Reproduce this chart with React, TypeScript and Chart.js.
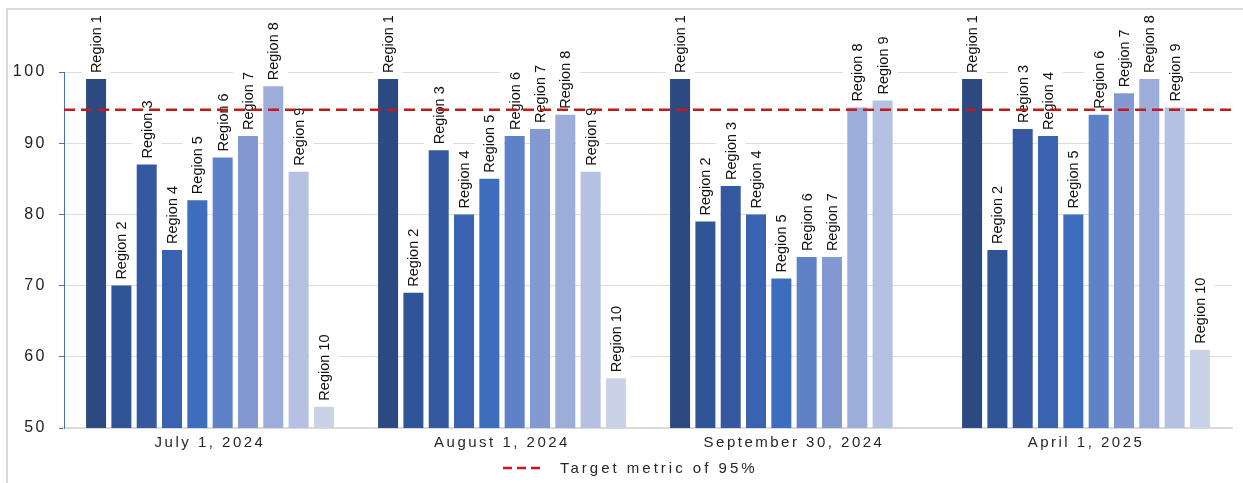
import React, { useEffect, useRef } from "react";
import { Chart, registerables } from "chart.js";

Chart.register(...registerables);

const categories = ["July 1, 2024", "August 1, 2024", "September 30, 2024", "April 1, 2025"];
const regions = ["Region 1", "Region 2", "Region 3", "Region 4", "Region 5", "Region 6", "Region 7", "Region 8", "Region 9", "Region 10"];

const region1 = [99, 99, 99, 99];
const region2 = [70, 69, 79, 75];
const region3 = [87, 89, 84, 92];
const region4 = [75, 80, 80, 91];
const region5 = [82, 85, 71, 80];
const region6 = [88, 91, 74, 94];
const region7 = [91, 92, 74, 97];
const region8 = [98, 94, 95, 99];
const region9 = [86, 86, 96, 95];
const region10 = [53, 57, null, 61];

const seriesValues = [region1, region2, region3, region4, region5, region6, region7, region8, region9, region10];
const regionColors = ["#2B4A81", "#2F5597", "#3459A1", "#3963B0", "#3E6DBE", "#5F81C7", "#8499D1", "#9DADDA", "#B4C1E2", "#CAD2E7"];

const targetValue = 94.7;
const targetLabel = "Target metric of 95%";
const yTicks = [50, 60, 70, 80, 90, 100];

const FONT = "'Liberation Sans', Arial, sans-serif";

const barLabelPlugin = {
  id: "barLabels",
  afterDatasetsDraw(chart: any) {
    const ctx = chart.ctx;
    ctx.save();
    (ctx as any).letterSpacing = "0px";
    ctx.font = `14.5px ${FONT}`;
    chart.data.datasets.forEach((ds: any, di: number) => {
      const meta = chart.getDatasetMeta(di);
      if (meta.type !== "bar") return;
      meta.data.forEach((bar: any, i: number) => {
        const v = ds.data[i];
        if (v === null || v === undefined) return;
        const text = ds.label;
        const w = ctx.measureText(text).width;
        ctx.save();
        ctx.translate(bar.x, bar.y - 3);
        ctx.rotate(-Math.PI / 2);
        ctx.fillStyle = "#FFFFFF";
        ctx.fillRect(0, -14.5, w + 8, 29);
        ctx.fillStyle = "#111111";
        ctx.textAlign = "left";
        ctx.textBaseline = "middle";
        ctx.fillText(text, 3, 1);
        ctx.restore();
      });
    });
    ctx.restore();
  },
};

const targetPlugin = {
  id: "targetLine",
  afterDatasetsDraw(chart: any) {
    const ctx = chart.ctx;
    const y = chart.scales.y.getPixelForValue(targetValue);
    const { left, right } = chart.chartArea;
    ctx.save();
    ctx.strokeStyle = "#C8161D";
    ctx.lineWidth = 2.5;
    ctx.setLineDash([11, 6]);
    ctx.beginPath();
    ctx.moveTo(left, y);
    ctx.lineTo(right, y);
    ctx.stroke();
    ctx.restore();
  },
  afterDraw(chart: any) {
    const ctx = chart.ctx;
    const ly = 468;
    ctx.save();
    ctx.strokeStyle = "#D0161B";
    ctx.lineWidth = 2.5;
    ctx.setLineDash([9, 5]);
    ctx.beginPath();
    ctx.moveTo(503, ly);
    ctx.lineTo(541, ly);
    ctx.stroke();
    ctx.setLineDash([]);
    ctx.font = `15px ${FONT}`;
    (ctx as any).letterSpacing = "3px";
    ctx.fillStyle = "#262626";
    ctx.textAlign = "left";
    ctx.textBaseline = "middle";
    ctx.fillText(targetLabel, 560, ly + 1);
    ctx.restore();
  },
};

const letterSpacePlugin = {
  id: "letterSpace",
  beforeDraw(chart: any) {
    (chart.ctx as any).letterSpacing = "2.5px";
  },
  afterDatasetsDraw(chart: any) {
    (chart.ctx as any).letterSpacing = "0px";
  },
};

export default function App() {
  const canvasRef = useRef<HTMLCanvasElement | null>(null);

  useEffect(() => {
    if (!canvasRef.current) return;
    const chart = new Chart(canvasRef.current, {
      type: "bar",
      data: {
        labels: categories,
        datasets: regions.map((r, i) => ({
          label: r,
          data: seriesValues[i],
          backgroundColor: regionColors[i],
          borderWidth: 0,
          barPercentage: 0.79,
          categoryPercentage: 0.867,
        })),
      },
      options: {
        animation: false,
        responsive: true,
        maintainAspectRatio: false,
        layout: { padding: { top: 72, right: 11, bottom: 30, left: 0 } },
        plugins: {
          legend: { display: false },
          tooltip: { enabled: false },
        },
        scales: {
          x: {
            grid: { display: true, color: "rgba(0,0,0,0)", drawTicks: false },
            border: { display: true, color: "#D9D9D9", width: 2 },
            ticks: {
              color: "#262626",
              font: { family: FONT, size: 15 },
              padding: 6,
              maxRotation: 0,
            },
            afterFit(scale: any) {
              scale.height = 25;
            },
          },
          y: {
            min: 50,
            max: 100,
            afterBuildTicks(scale: any) {
              scale.ticks = yTicks.map((v) => ({ value: v }));
            },
            grid: { color: "#DDDDDD", tickLength: 5, tickColor: "#4472C4" },
            border: { display: true, color: "#4472C4", width: 1 },
            ticks: {
              color: "#222222",
              font: { family: FONT, size: 16 },
              padding: 12,
            },
            afterFit(scale: any) {
              scale.width = 64;
            },
          },
        },
      },
      plugins: [letterSpacePlugin, barLabelPlugin, targetPlugin],
    });
    return () => chart.destroy();
  }, []);

  return (
    <div style={{ position: "fixed", left: 0, top: 0, width: 1243, height: 483, background: "#fff", overflow: "hidden" }}>
      <div
        style={{
          position: "absolute",
          left: 6,
          top: 8,
          width: 1260,
          height: 520,
          border: "2px solid #D9D9D9",
          boxSizing: "border-box",
        }}
      />
      <div style={{ position: "absolute", left: 0, top: 0, width: 1243, height: 483 }}>
        <canvas ref={canvasRef} />
      </div>
    </div>
  );
}
